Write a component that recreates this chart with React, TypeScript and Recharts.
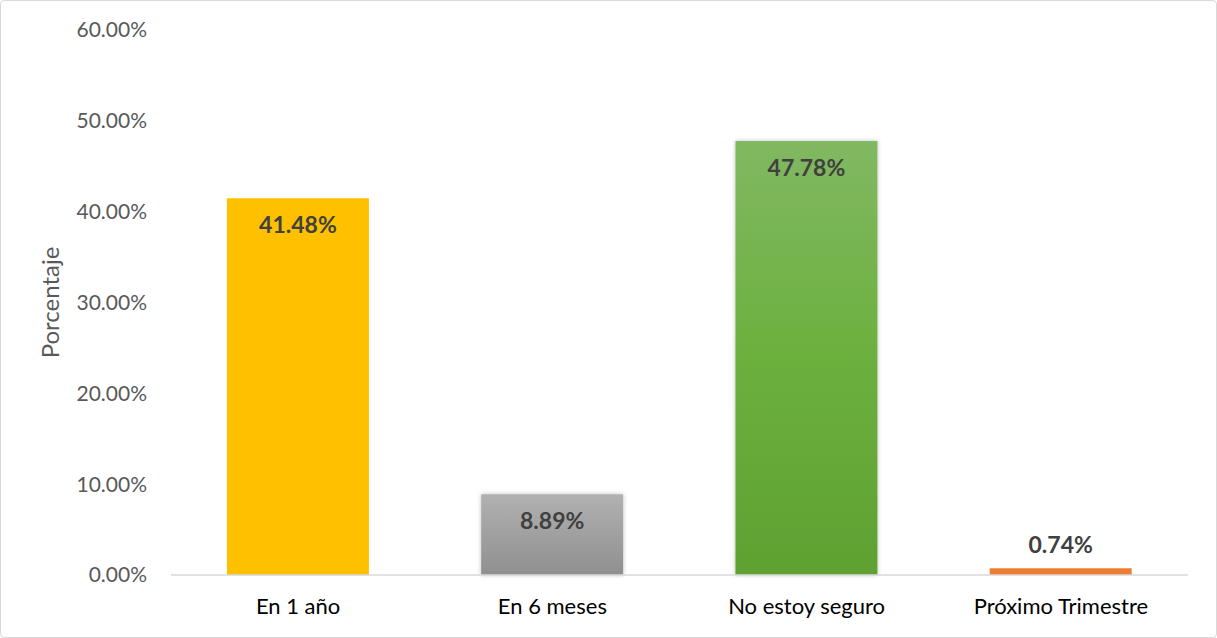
import React from "react"
import { BarChart, Bar, XAxis, YAxis, Cell, LabelList } from "recharts"

const categories = ["En 1 año", "En 6 meses", "No estoy seguro", "Próximo Trimestre"]
const values = [41.48, 8.89, 47.78, 0.74]
const yTicks = [0, 10, 20, 30, 40, 50, 60]
const fills = ["#FFC000", "url(#grayGrad)", "url(#greenGrad)", "#ED7D31"]

const data = categories.map((name, i) => ({ name, value: values[i] }))

const FONT = "Lato, 'Open Sans', sans-serif"

const renderLabel = (props: any) => {
  const { x, y, width, height, value } = props
  const cx = x + width / 2
  const inside = height > 40
  const ty = inside ? y + 35 : y - 15
  return (
    <text x={cx} y={ty} textAnchor="middle" fill="#404040" fontSize={23} fontWeight="bold" fontFamily={FONT}>
      {value.toFixed(2)}%
    </text>
  )
}

const renderAxisTitle = (props: any) => {
  const { viewBox } = props
  const cy = viewBox.y + viewBox.height / 2
  return (
    <text x={52} y={cy} transform={`rotate(-90 52 ${cy})`} textAnchor="middle" dominantBaseline="middle" fill="#595959" fontSize={24} fontFamily={FONT}>
      Porcentaje
    </text>
  )
}

export default function App() {
  return (
    <div
      style={{
        position: "absolute",
        left: 0,
        top: 0,
        width: 1217,
        height: 638,
        boxSizing: "border-box",
        border: "1px solid #d9d9d9",
        borderRadius: 4,
        background: "#fff",
      }}
    >
      <BarChart
        width={1215}
        height={636}
        data={data}
        margin={{ top: 29, right: 28, bottom: 22, left: 0 }}
        barCategoryGap="22%"
      >
        <defs>
          <linearGradient id="grayGrad" x1="0" y1="0" x2="0" y2="1">
            <stop offset="0%" stopColor="#b1b1b1" />
            <stop offset="100%" stopColor="#8f8f8f" />
          </linearGradient>
          <linearGradient id="greenGrad" x1="0" y1="0" x2="0" y2="1">
            <stop offset="0%" stopColor="#81b862" />
            <stop offset="50%" stopColor="#6cb03e" />
            <stop offset="100%" stopColor="#5fa132" />
          </linearGradient>
          <filter id="shadow" x="-10%" y="-10%" width="120%" height="120%">
            <feDropShadow dx="0" dy="0" stdDeviation="2" floodColor="#000" floodOpacity="0.25" />
          </filter>
        </defs>
        <XAxis
          dataKey="name"
          height={40}
          axisLine={{ stroke: "#d9d9d9", strokeWidth: 1.5 }}
          tickLine={false}
          tickSize={0}
          tickMargin={23}
          tick={{ fill: "#000", fontSize: 22, fontFamily: FONT }}
        />
        <YAxis
          width={170}
          domain={[0, 60]}
          ticks={yTicks}
          axisLine={false}
          tickLine={false}
          tickSize={0}
          tickMargin={24}
          tickFormatter={(v: number) => v.toFixed(2) + "%"}
          tick={{ fill: "#595959", fontSize: 21, fontFamily: FONT }}
          label={{ content: renderAxisTitle }}
        />
        <Bar dataKey="value" isAnimationActive={false}>
          {data.map((d, i) => (
            <Cell key={d.name} fill={fills[i]} filter={i === 2 || i === 1 ? "url(#shadow)" : undefined} />
          ))}
          <LabelList dataKey="value" content={renderLabel} />
        </Bar>
      </BarChart>
    </div>
  )
}
